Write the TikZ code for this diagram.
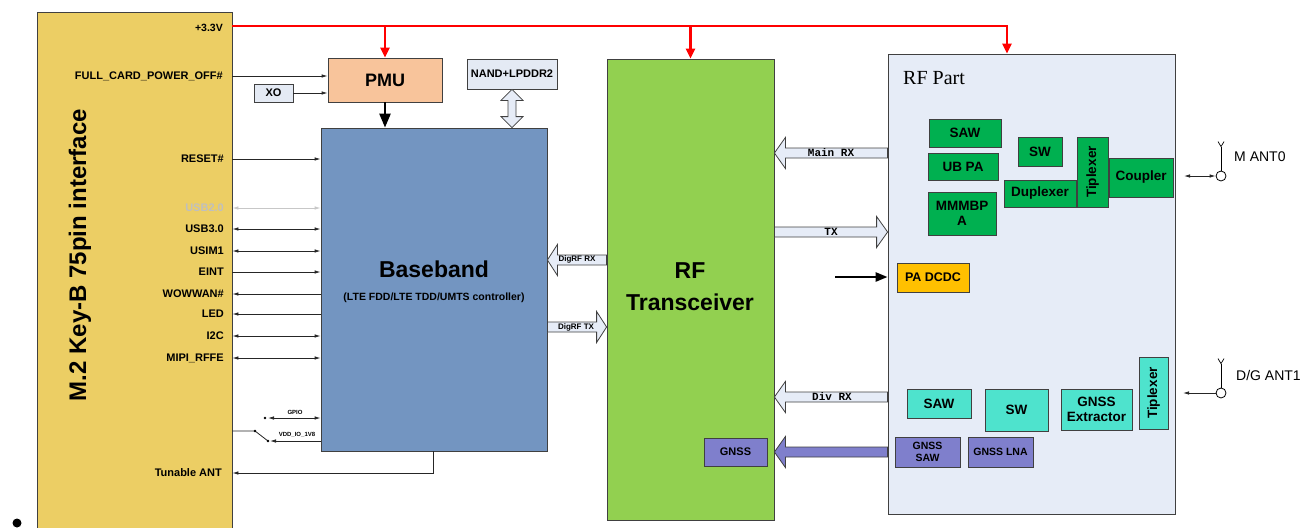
\documentclass[tikz,border=0pt]{standalone}
\usepackage{fontspec}
\setmainfont{Liberation Sans}
\newfontfamily\rfserif{Liberation Serif}
\newfontfamily\rfmono{Liberation Mono}
\usetikzlibrary{arrows.meta,calc}
\definecolor{m2yel}{HTML}{ECCE64}
\definecolor{bbblue}{HTML}{7395C1}
\definecolor{rfgreen}{HTML}{92D050}
\definecolor{rfpartc}{HTML}{E6ECF7}
\definecolor{pmucol}{HTML}{F8C49B}
\definecolor{boxgreen}{HTML}{00B050}
\definecolor{tealbox}{HTML}{4EE3CD}
\definecolor{gnsspurp}{HTML}{7F7FCC}
\definecolor{padc}{HTML}{FFC000}
\definecolor{lightbox}{HTML}{E4EAF4}
\definecolor{edgec}{HTML}{404040}
\newcommand\fatarrow[4]{\draw[#1] let \p1=(#2),\p2=(#3) in
  (\x1,\y1+5pt) -- (\x2+#4*1pt,\y1+5pt) -- (\x2+#4*1pt,\y1+15.5pt) -- (\x2,\y1)
  -- (\x2+#4*1pt,\y1-15.5pt) -- (\x2+#4*1pt,\y1-5pt) -- (\x1,\y1-5pt) -- cycle;}
\begin{document}
\begin{tikzpicture}[x=1pt,y=-1pt,
  box/.style={draw=edgec,line width=0.8pt,inner sep=0pt,align=center,font=\bfseries\fontsize{13.5}{15}\selectfont},
  lab/.style={anchor=east,inner sep=0pt,font=\bfseries\fontsize{11}{13}\selectfont},
  tiny/.style={inner sep=0pt,font=\bfseries\fontsize{6}{7}\selectfont},
  sig/.style={line width=0.8pt,draw=black!85,>={Latex[length=6pt,width=3.5pt]}},
  pwr/.style={line width=2.4pt,draw=red,-{Triangle[length=10pt,width=9pt]}},
  thickarr/.style={line width=2.5pt,draw=black,-{Triangle[length=14pt,width=11pt]}},
  hollow/.style={draw=edgec,line width=0.8pt,fill=rfpartc},
  arrlab/.style={inner sep=0pt,font=\rfmono\bfseries\fontsize{11}{12}\selectfont},
  digl/.style={inner sep=0pt,font=\bfseries\fontsize{8}{10}\selectfont},
  antl/.style={anchor=west,inner sep=0pt,font=\fontsize{14}{16}\selectfont}
]
\useasboundingbox (0,0) rectangle (1313,527);
\clip (0,0) rectangle (1313,527);

% M.2 interface
\node[box,fill=m2yel,minimum width=195,minimum height=523] (m2) at (134.5,273.5) {};
\node[rotate=90,inner sep=0pt,font=\bfseries\fontsize{24}{26}\selectfont] (m2t) at (80,255) {M.2 Key-B 75pin interface};
\fill (17,523) circle (4.5);

% blocks
\node[box,fill=pmucol,minimum width=114,minimum height=44,font=\bfseries\fontsize{18}{20}\selectfont] (pmu) at (385,80) {PMU};
\node[box,fill=lightbox,minimum width=90,minimum height=30,font=\bfseries\fontsize{11}{13}\selectfont] (nand) at (512,74) {NAND+LPDDR2};
\node[box,fill=lightbox,minimum width=39,minimum height=18,font=\bfseries\fontsize{11}{13}\selectfont] (xo) at (273.5,93) {XO};
\node[box,fill=bbblue,minimum width=226,minimum height=323] (bb) at (434,289.5) {};
\node[inner sep=0pt,font=\bfseries\fontsize{23}{26}\selectfont] (bbt) at (434,269) {Baseband};
\node[inner sep=0pt,font=\bfseries\fontsize{10.5}{12}\selectfont] (bbs) at (434,298) {(LTE FDD/LTE TDD/UMTS controller)};
\node[box,fill=rfgreen,minimum width=167,minimum height=461] (rft) at (690.5,289.5) {};
\node[inner sep=0pt,align=center,font=\bfseries\fontsize{23}{32}\selectfont] (rftt) at (690,287) {RF\\Transceiver};
\node[box,fill=gnsspurp,minimum width=63,minimum height=28,font=\bfseries\fontsize{11}{13}\selectfont] (gnss) at (735.5,452) {GNSS};
\node[box,fill=rfpartc,minimum width=287,minimum height=460] (rfp) at (1031.5,284) {};
\node[anchor=west,inner sep=0pt,font=\rfserif\fontsize{20}{22}\selectfont] (rfpt) at (903,78) {RF Part};

% RF part contents
\node[box,fill=padc,minimum width=72,minimum height=29,font=\bfseries\fontsize{12.5}{14}\selectfont] (pa) at (933,277.5) {PA DCDC};
\node[box,fill=boxgreen,minimum width=72,minimum height=28] (saw1) at (965,133) {SAW};
\node[box,fill=boxgreen,minimum width=70,minimum height=27] (ubpa) at (963,166.5) {UB PA};
\node[box,fill=boxgreen,minimum width=68,minimum height=43] (mmm) at (962,213.5) {MMMBP\\A};
\node[box,fill=boxgreen,minimum width=44,minimum height=29] (sw1) at (1040,151.5) {SW};
\node[box,fill=boxgreen,minimum width=72,minimum height=27] (dup) at (1040,193.5) {Duplexer};
\node[box,fill=boxgreen,minimum width=31,minimum height=70] (tip1) at (1092.5,172) {};
\node[rotate=90,inner sep=0pt,font=\bfseries\fontsize{13.5}{15}\selectfont] (tip1t) at (tip1) {Tiplexer};
\node[box,fill=boxgreen,minimum width=64,minimum height=39] (cpl) at (1141,177.5) {Coupler};
\node[box,fill=tealbox,minimum width=64,minimum height=29] (saw2) at (939,403.5) {SAW};
\node[box,fill=tealbox,minimum width=63,minimum height=42] (sw2) at (1016.5,410) {SW};
\node[box,fill=tealbox,minimum width=71,minimum height=41] (gext) at (1096.5,409.5) {GNSS\\Extractor};
\node[box,fill=tealbox,minimum width=29,minimum height=72] (tip2) at (1153.5,393) {};
\node[rotate=90,inner sep=0pt,font=\bfseries\fontsize{13.5}{15}\selectfont] (tip2t) at (tip2) {Tiplexer};
\node[box,fill=gnsspurp,minimum width=65,minimum height=30,font=\bfseries\fontsize{10.5}{12}\selectfont] (gsaw) at (927.5,452) {GNSS\\SAW};
\node[box,fill=gnsspurp,minimum width=65,minimum height=30,font=\bfseries\fontsize{10.5}{12}\selectfont] (glna) at (1000.5,452) {GNSS LNA};

% antennas
\node[circle,draw=black,line width=0.8pt,fill=white,minimum size=10,inner sep=0pt] (ant0) at (1221,176) {};
\node[circle,draw=black,line width=0.8pt,fill=white,minimum size=10,inner sep=0pt] (ant1) at (1221,393) {};
\draw[line width=0.8pt] (ant0.north) -- ++(0,-24) coordinate (a0top);
\draw[line width=0.7pt] (a0top) ++(-3,-5) -- (a0top) -- ++(3,-5);
\draw[line width=0.8pt] (ant1.north) -- ++(0,-24) coordinate (a1top);
\draw[line width=0.7pt] (a1top) ++(-3,-5) -- (a1top) -- ++(3,-5);
\node[antl] (ant0l) at (1234,157) {M ANT0};
\node[antl] (ant1l) at (1236,375) {D/G ANT1};
\coordinate (c0) at (1184,176);
\coordinate (c1) at (1183,393);
\draw[sig,<->] (c0) -- (ant0.west);
\draw[sig,<-] (c1) -- (ant1.west);

% power rail
\coordinate (v33) at (232,26);
\node[lab,font=\bfseries\fontsize{10.5}{12}\selectfont] (v33l) at (223,28) {+3.3V};
\draw[pwr] (v33) -| (pmu.north);
\draw[pwr] (v33) -| (rft.north);
\draw[pwr] (v33) -| (rfp.north -| 1007,0);

% PMU connections
\node[lab] (fcpo) at (223,76) {FULL\_CARD\_POWER\_OFF\#};
\draw[sig,->] (m2.east |- 0,76) -- (pmu.west |- 0,76);
\draw[sig,->] (xo.east) -- (pmu.west |- xo.east);
\draw[thickarr] (pmu.south) -- (bb.north -| pmu.south);
\draw[hollow] let \p1=(nand.south),\p2=(bb.north -| nand.south) in
  (\x1,\y1) -- (\x1+11pt,\y1-11pt) -- (\x1+4pt,\y1-11pt) -- (\x1+4pt,\y2+11pt) -- (\x1+11pt,\y2+11pt)
  -- (\x2,\y2) -- (\x1-11pt,\y2+11pt) -- (\x1-4pt,\y2+11pt) -- (\x1-4pt,\y1-11pt) -- (\x1-11pt,\y1-11pt) -- cycle;

% interface signals
\node[lab] (l1) at (224,159) {RESET\#};
\draw[sig,->] (m2.east |- 0,159) -- (bb.west |- 0,159);
\node[lab,text=black!25] (l2) at (224,208) {USB2.0};
\draw[sig,<->,draw=black!22] (m2.east |- 0,208) -- (bb.west |- 0,208);
\node[lab] (l3) at (224,229) {USB3.0};
\draw[sig,<->] (m2.east |- 0,229) -- (bb.west |- 0,229);
\node[lab] (l4) at (224,251) {USIM1};
\draw[sig,<->] (m2.east |- 0,251) -- (bb.west |- 0,251);
\node[lab] (l5) at (224,272) {EINT};
\draw[sig,->] (m2.east |- 0,272) -- (bb.west |- 0,272);
\node[lab] (l6) at (224,294) {WOWWAN\#};
\draw[sig,<-] (m2.east |- 0,294) -- (bb.west |- 0,294);
\node[lab] (l7) at (224,314) {LED};
\draw[sig,<-] (m2.east |- 0,314) -- (bb.west |- 0,314);
\node[lab] (l8) at (224,336) {I2C};
\draw[sig,<->] (m2.east |- 0,336) -- (bb.west |- 0,336);
\node[lab] (l9) at (224,358) {MIPI\_RFFE};
\draw[sig,<->] (m2.east |- 0,358) -- (bb.west |- 0,358);

% GPIO / VDD switch
\coordinate (gp) at (268,418);
\fill (265,418) circle (1.3);
\draw[sig,<->] (gp) -- (bb.west |- gp);
\node[tiny] (gpl) at (295,412.5) {GPIO};
\coordinate (s1) at (255,431);
\coordinate (s2) at (268,441);
\draw[sig] (m2.east |- s1) -- (s1) -- (s2);
\fill (s1) circle (1.3);
\fill (s2) circle (1.3);
\draw[sig,->] (bb.west |- s2) -- ([xshift=2pt]s2);
\node[tiny] (vddl) at (297,435) {VDD\_IO\_1V8};
\node[lab] (tal) at (222,473) {Tunable ANT};
\draw[sig,->] (bb.south -| 433,0) |- (m2.east |- 0,473);

% DigRF
\fatarrow{hollow}{rft.west |- 0,260}{bb.east |- 0,260}{10}
\node[digl] (digrx) at (577,259) {DigRF RX};
\fatarrow{hollow}{bb.east |- 0,327}{rft.west |- 0,327}{-10}
\node[digl] (digtx) at (576,327) {DigRF TX};

% RF part <-> transceiver
\fatarrow{hollow}{rfp.west |- 0,153}{rft.east |- 0,153}{11}
\node[arrlab] (mrx) at (831,153) {Main RX};
\fatarrow{hollow}{rft.east |- 0,232}{rfp.west |- 0,232}{-11}
\node[arrlab] (txl) at (831,232) {TX};
\fatarrow{hollow}{rfp.west |- 0,397}{rft.east |- 0,397}{11}
\node[arrlab] (drx) at (832,397) {Div RX};
\fatarrow{draw=edgec,line width=0.8pt,fill=gnsspurp}{rfp.west |- 0,452}{rft.east |- 0,452}{11}
\draw[line width=2.5pt,-{Triangle[length=12pt,width=9pt]}] (835,277) -- (rfp.west |- 0,277);
\end{tikzpicture}
\end{document}
